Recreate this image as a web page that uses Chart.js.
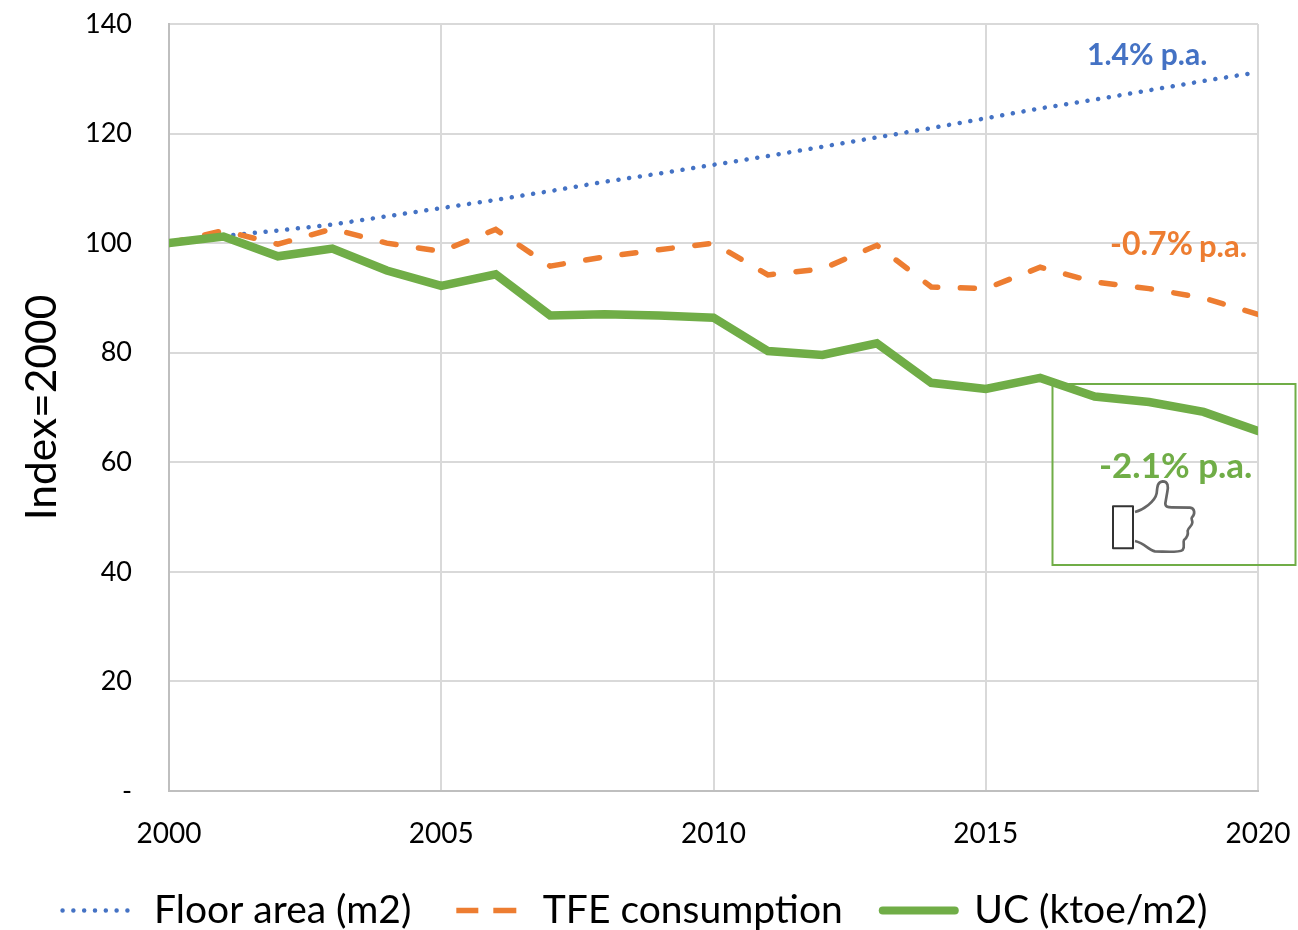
<!DOCTYPE html>
<html><head><meta charset="utf-8">
<style>html,body{margin:0;padding:0;background:#fff;overflow:hidden}canvas{display:block}</style>
<script src="https://cdn.jsdelivr.net/npm/chart.js@4"></script>
</head><body>
<canvas id="c" width="1298" height="930"></canvas>
<script>
const years=[2000,2001,2002,2003,2004,2005,2006,2007,2008,2009,2010,2011,2012,2013,2014,2015,2016,2017,2018,2019,2020];
const floorArea=[100,101.3,102.3,103.4,104.9,106.4,107.9,109.5,111.2,112.7,114.3,115.9,117.6,119.3,121,122.8,124.6,126.2,127.9,129.6,131.2];
const tfe=[100,102.3,99.8,102.6,100,98.5,102.5,95.8,97.5,98.8,100,94.2,95.3,99.6,92,91.7,95.6,92.9,91.7,90,87];
const uc=[100,101.2,97.6,99,95,92.2,94.3,86.8,87,86.8,86.4,80.3,79.6,81.7,74.5,73.4,75.4,72,71,69.2,65.7];
const seriesNames=['Floor area (m2)','TFE consumption','UC (ktoe/m2)'];
const BLUE='#4472C4',ORANGE='#ED7D31',GREEN='#70AD47',FONT='Lato';
const pts=a=>a.map((y,i)=>({x:years[i],y}));
const noPad=s=>{s.paddingLeft=s.paddingRight=s.paddingTop=s.paddingBottom=0};
const notes={
 id:'notes',
 afterDatasetsDraw(ch){
  const c=ch.ctx;c.save();
  c.textBaseline='middle';c.textAlign='left';
  c.fillStyle=BLUE;c.font=`bold 30px ${FONT}`;c.fillText('1.4% p.a.',1087,55);
  c.fillStyle=ORANGE;c.font=`bold 32px ${FONT}`;c.fillText('-0.7%',1110,245);
  c.font=`bold 31px ${FONT}`;c.fillText('p.a.',1199,247);
  c.strokeStyle=GREEN;c.lineWidth=2;c.strokeRect(1052.5,384,243,181);
  c.fillStyle=GREEN;c.font=`bold 35px ${FONT}`;c.fillText('-2.1% p.a.',1099,467);
  c.translate(1040,370);c.scale(1/3,1/3);
  c.strokeStyle='#333';c.lineWidth=6;c.lineJoin='round';
  c.strokeRect(219,409,60,126);
  c.strokeStyle='#666';c.lineWidth=8;
  c.stroke(new Path2D('M285 426 C310 420 345 395 350 370 C352 350 352 336 368 334 C385 334 385 350 382 365 L376 400 C376 412 385 412 395 412 L450 413 C465 415 466 432 456 442 C452 448 458 450 457 458 C456 470 445 472 443 482 C445 492 442 502 432 510 C428 518 436 530 428 540 C420 546 380 546 345 544 C325 540 315 520 285 513'));
  c.restore();
 }
};
new Chart(document.getElementById('c'),{
 type:'line',
 data:{datasets:[
  {label:seriesNames[0],data:pts(floorArea),borderColor:BLUE,backgroundColor:BLUE,borderWidth:4.5,borderDash:[0.01,10.8],borderCapStyle:'round',pointRadius:0,order:3,tension:0},
  {label:seriesNames[1],data:pts(tfe),borderColor:ORANGE,backgroundColor:ORANGE,borderWidth:5.5,borderDash:[14,22.7],borderCapStyle:'round',pointRadius:0,order:2,tension:0},
  {label:seriesNames[2],data:pts(uc),borderColor:GREEN,backgroundColor:GREEN,borderWidth:8.5,borderCapStyle:'round',pointRadius:0,order:1,tension:0}
 ]},
 options:{
  responsive:false,animation:false,
  layout:{padding:{left:12,right:40,top:24,bottom:-10}},
  plugins:{
   tooltip:{enabled:false},
   legend:{position:'bottom',labels:{
    color:'#000',font:{family:FONT,size:39},usePointStyle:true,pointStyle:'line',pointStyleWidth:72,boxWidth:72,boxHeight:39,padding:40,
    sort:(a,b)=>a.datasetIndex-b.datasetIndex,
    generateLabels(ch){
     const l=Chart.defaults.plugins.legend.labels.generateLabels(ch);
     l.forEach(i=>{
      if(i.datasetIndex===0){i.lineDash=[0.01,10.8];i.lineCap='round';i.lineWidth=4.5;}
      if(i.datasetIndex===1){i.lineDash=[0,5,22,15,23,100];i.lineCap='butt';i.lineWidth=5.5;}
      if(i.datasetIndex===2){i.lineCap='round';i.lineWidth=8;}
     });
     return l;
    }
   }}
  },
  scales:{
   x:{type:'linear',min:2000,max:2020,
    afterFit(s){s.height=60;noPad(s)},
    afterBuildTicks(s){s.ticks=[2000,2005,2010,2015,2020].map(v=>({value:v}))},
    grid:{color:'#d9d9d9',lineWidth:2,drawTicks:false},border:{color:'#bfbfbf',width:2},
    ticks:{color:'#000',font:{family:FONT,size:28},padding:26,maxRotation:0,callback:v=>String(v)}
   },
   y:{min:0,max:140,
    afterFit(s){s.width=157;noPad(s)},
    grid:{color:'#d9d9d9',lineWidth:2,drawTicks:false},border:{color:'#bfbfbf',width:2},
    title:{display:true,text:'Index=2000',color:'#000',font:{family:FONT,size:42.5},padding:{top:5,bottom:0}},
    ticks:{stepSize:20,color:'#000',font:{family:FONT,size:27},padding:37,callback:v=>v===0?'-':String(v)}
   }
  }
 },
 plugins:[notes]
});
</script>
</body></html>
